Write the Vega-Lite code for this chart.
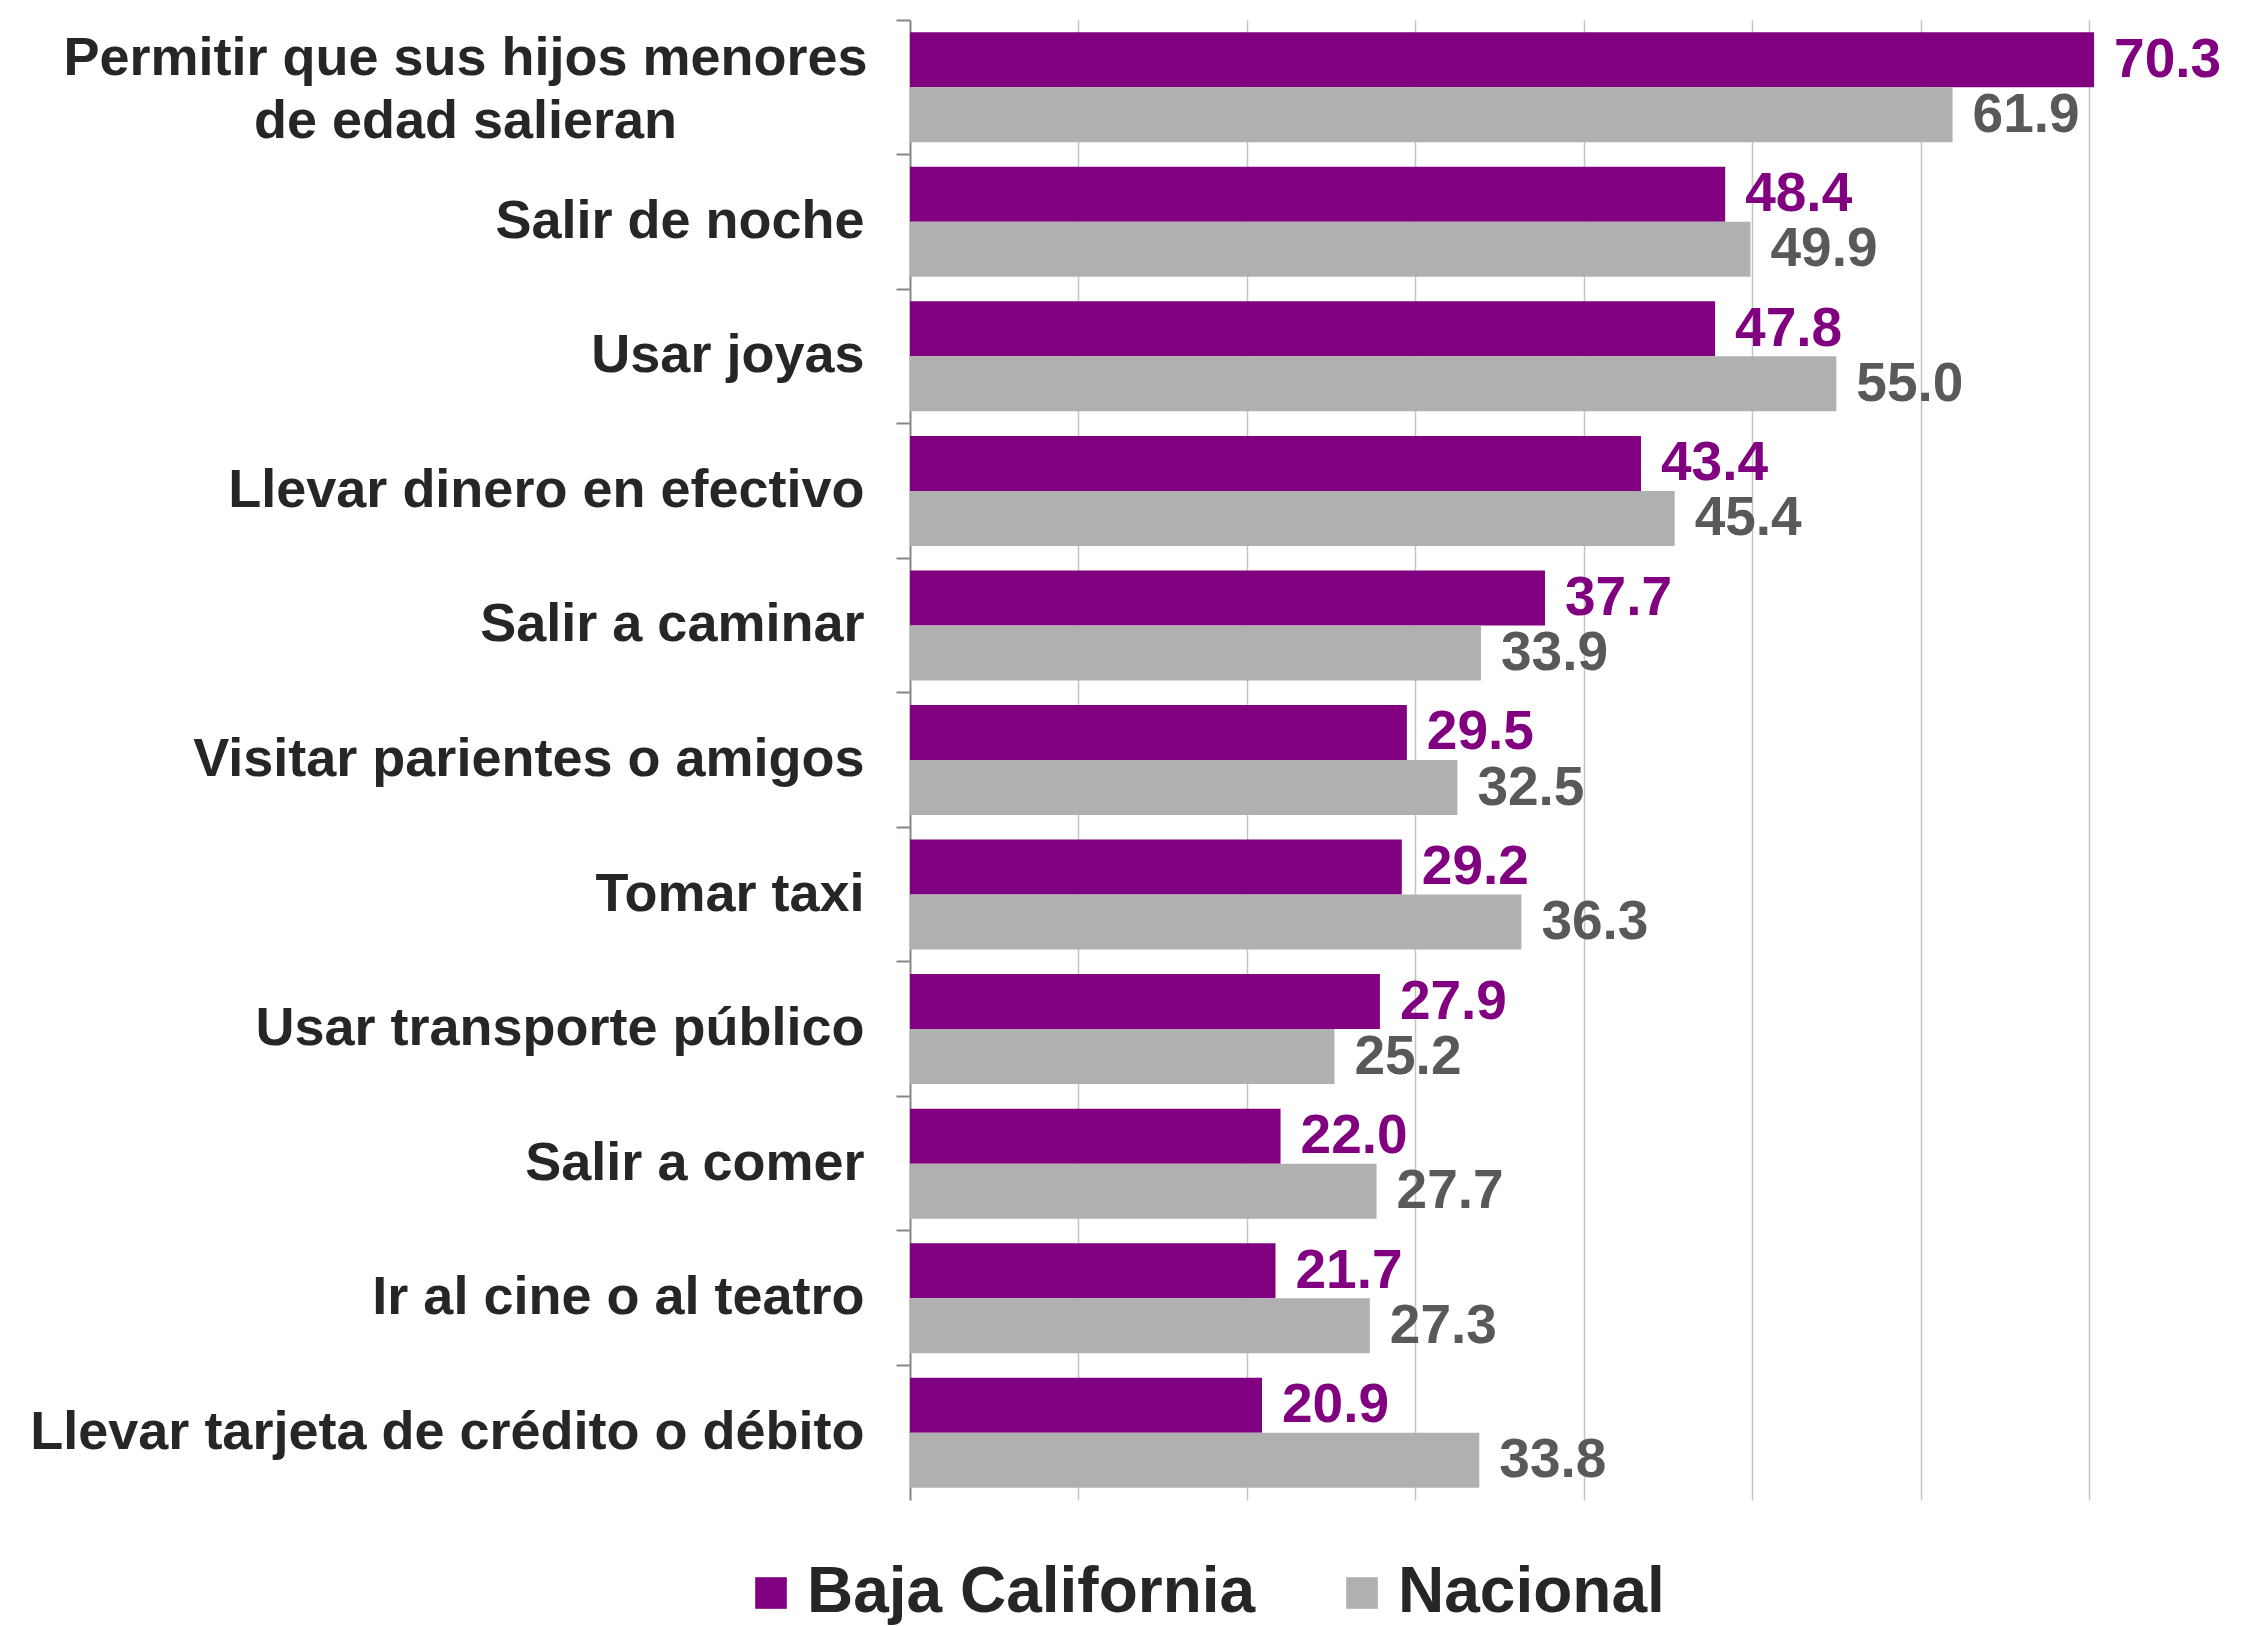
{
  "$schema": "https://vega.github.io/schema/vega-lite/v6.json",
  "autosize": {"type": "none"},
  "padding": {"left": 910, "top": 20, "right": 155, "bottom": 126},
  "width": 1179,
  "height": 1480,
  "background": "white",
  "config": {"view": {"stroke": null}, "font": "Liberation Sans"},
  "data": {
    "values": [
      {"actividad": "Permitir que sus hijos menores de edad salieran", "serie": "Baja California", "valor": 70.3},
      {"actividad": "Permitir que sus hijos menores de edad salieran", "serie": "Nacional", "valor": 61.9},
      {"actividad": "Salir de noche", "serie": "Baja California", "valor": 48.4},
      {"actividad": "Salir de noche", "serie": "Nacional", "valor": 49.9},
      {"actividad": "Usar joyas", "serie": "Baja California", "valor": 47.8},
      {"actividad": "Usar joyas", "serie": "Nacional", "valor": 55.0},
      {"actividad": "Llevar dinero en efectivo", "serie": "Baja California", "valor": 43.4},
      {"actividad": "Llevar dinero en efectivo", "serie": "Nacional", "valor": 45.4},
      {"actividad": "Salir a caminar", "serie": "Baja California", "valor": 37.7},
      {"actividad": "Salir a caminar", "serie": "Nacional", "valor": 33.9},
      {"actividad": "Visitar parientes o amigos", "serie": "Baja California", "valor": 29.5},
      {"actividad": "Visitar parientes o amigos", "serie": "Nacional", "valor": 32.5},
      {"actividad": "Tomar taxi", "serie": "Baja California", "valor": 29.2},
      {"actividad": "Tomar taxi", "serie": "Nacional", "valor": 36.3},
      {"actividad": "Usar transporte público", "serie": "Baja California", "valor": 27.9},
      {"actividad": "Usar transporte público", "serie": "Nacional", "valor": 25.2},
      {"actividad": "Salir a comer", "serie": "Baja California", "valor": 22.0},
      {"actividad": "Salir a comer", "serie": "Nacional", "valor": 27.7},
      {"actividad": "Ir al cine o al teatro", "serie": "Baja California", "valor": 21.7},
      {"actividad": "Ir al cine o al teatro", "serie": "Nacional", "valor": 27.3},
      {"actividad": "Llevar tarjeta de crédito o débito", "serie": "Baja California", "valor": 20.9},
      {"actividad": "Llevar tarjeta de crédito o débito", "serie": "Nacional", "valor": 33.8}
    ]
  },
  "encoding": {
    "y": {
      "field": "actividad",
      "type": "nominal",
      "sort": null,
      "scale": {"paddingInner": 0, "paddingOuter": 0},
      "axis": {
        "title": null,
        "labelFontSize": 54,
        "labelFontWeight": "bold",
        "labelColor": "#262626",
        "labelLimit": 1200,
        "labelPadding": {"condition": {"test": "datum.value == 'Permitir que sus hijos menores de edad salieran'", "value": 431}, "value": 32},
        "labelAlign": {"condition": {"test": "datum.value == 'Permitir que sus hijos menores de edad salieran'", "value": "center"}, "value": "right"},
        "labelOffset": {"condition": {"test": "datum.value == 'Permitir que sus hijos menores de edad salieran'", "value": -28}, "value": 0},
        "tickSize": 14,
        "tickWidth": 2,
        "tickColor": "#868686",
        "domainColor": "#868686",
        "domainWidth": 2,
        "bandPosition": 0,
        "labelLineHeight": 63,
        "grid": false,
        "labelExpr": "datum.value == 'Permitir que sus hijos menores de edad salieran' ? ['Permitir que sus hijos menores', 'de edad salieran'] : datum.value"
      }
    },
    "yOffset": {
      "field": "serie",
      "type": "nominal",
      "sort": ["Baja California", "Nacional"],
      "scale": {"paddingOuter": 0.223, "paddingInner": 0}
    },
    "x": {
      "field": "valor",
      "type": "quantitative",
      "scale": {"domain": [0, 70], "nice": false},
      "axis": {
        "title": null,
        "labels": false,
        "ticks": false,
        "domain": false,
        "grid": true,
        "gridColor": "#c4c4c4",
        "gridWidth": 1.5,
        "values": [10, 20, 30, 40, 50, 60, 70]
      }
    }
  },
  "layer": [
    {
      "mark": {"type": "bar", "clip": false},
      "encoding": {
        "color": {
          "field": "serie",
          "type": "nominal",
          "scale": {"domain": ["Baja California", "Nacional"], "range": ["#800080", "#b0b0b0"]},
          "legend": {
            "title": null,
            "orient": "none",
            "direction": "horizontal",
            "legendX": -171,
            "legendY": 1541,
            "symbolType": "square",
            "symbolSize": 1000,
            "symbolStrokeWidth": 0,
            "labelFontSize": 64,
            "labelFontWeight": "bold",
            "labelColor": "#262626",
            "labelOffset": 4,
            "labelLimit": 1000,
            "columnPadding": 74
          }
        }
      }
    },
    {
      "mark": {"type": "text", "align": "left", "dx": 20, "baseline": "middle", "fontSize": 55, "fontWeight": "bold"},
      "encoding": {
        "text": {"field": "valor", "type": "quantitative", "format": ".1f"},
        "color": {
          "condition": {"test": "datum.serie == 'Baja California'", "value": "#800080"},
          "value": "#595959"
        }
      }
    }
  ]
}
